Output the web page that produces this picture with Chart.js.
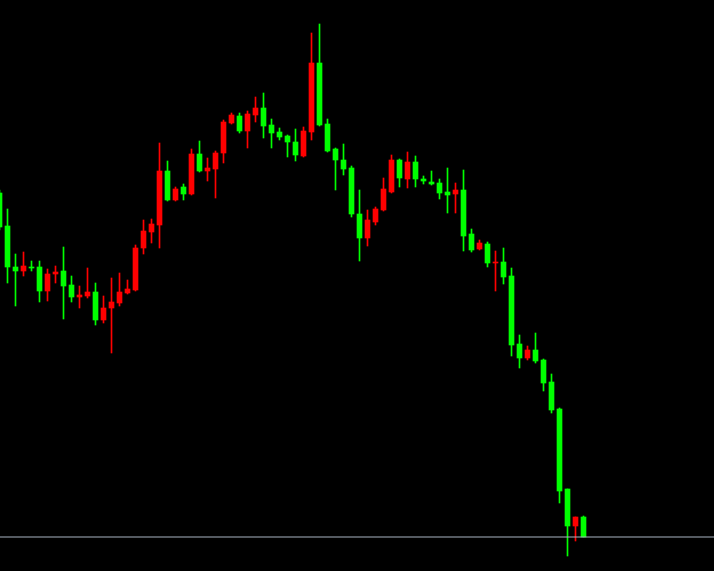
<!DOCTYPE html>
<html>
<head>
<meta charset="utf-8">
<script src="https://cdn.jsdelivr.net/npm/chart.js@4/dist/chart.umd.min.js"></script>
<style>
  html, body { margin: 0; padding: 0; background: #000; }
  #wrap { width: 714px; height: 571px; background: #000; }
</style>
</head>
<body>
<div id="wrap"><canvas id="c" width="714" height="571"></canvas></div>
<script>
// Candle values (arbitrary price units)
const openPrices  = [378,345,304,300,304,304,280,297,300,286,274,275,279,251,263,268,278,281,323,339,346,400,371,384,377,417,400,402,418,448,455,440,456,463,446,439,435,429,415,439,508,447,422,411,403,357,333,349,361,379,411,392,409,392,389,388,379,377,381,337,322,327,308,309,295,227,213,221,211,189,162,82,45,54];
const highPrices  = [381,362,317,319,310,310,302,305,324,295,285,303,288,275,293,298,291,326,351,352,428,410,384,387,422,430,413,420,451,458,458,460,474,478,452,443,436,442,444,538,547,452,423,427,405,381,361,364,393,416,412,419,415,395,400,392,403,388,401,342,331,329,320,323,303,236,225,238,212,197,163,82,54,55];
const lowPrices   = [341,288,265,295,300,269,270,288,252,269,263,273,246,248,218,265,277,280,317,328,323,370,370,371,376,399,390,373,408,447,438,423,449,433,423,431,414,410,414,431,445,419,381,396,354,310,325,346,360,378,384,383,384,387,386,372,358,358,320,319,321,304,280,287,215,203,211,208,180,158,68,15,30,34];
const closePrices = [344,304,300,305,303,280,297,299,285,274,276,279,251,263,269,279,282,323,340,347,400,371,382,377,417,400,403,418,449,456,440,457,463,445,438,434,429,416,440,508,446,420,411,402,357,333,351,362,382,411,393,409,392,390,387,378,376,381,335,321,328,308,309,294,226,213,221,210,188,161,80,45,54,34];
const candleIndex = openPrices.map((_, i) => i + 1);

const UP = '#ff0000';
const DOWN = '#00ff00';
const colors = openPrices.map((o, i) => closePrices[i] >= o ? UP : DOWN);

const wickData = candleIndex.map((x, i) => ({ x: x, y: [lowPrices[i], highPrices[i]] }));
const bodyData = candleIndex.map((x, i) => ({ x: x, y: [openPrices[i], closePrices[i]] }));
const lastClose = closePrices[closePrices.length - 1];

const X_MIN = 1.0625, X_MAX = 90.3125;

new Chart(document.getElementById('c'), {
  type: 'bar',
  data: {
    datasets: [
      {
        type: 'line',
        data: [{ x: X_MIN, y: lastClose }, { x: X_MAX, y: lastClose }],
        borderColor: '#a9b4c2',
        borderWidth: 1,
        pointRadius: 0,
        fill: false,
        order: 0
      },
      {
        data: bodyData,
        backgroundColor: colors,
        borderWidth: 0,
        barThickness: 5,
        grouped: false,
        order: 1
      },
      {
        data: wickData,
        backgroundColor: colors,
        borderWidth: 0,
        barThickness: 1,
        grouped: false,
        order: 2
      }
    ]
  },
  options: {
    responsive: false,
    animation: false,
    devicePixelRatio: 1,
    layout: { padding: 0 },
    plugins: { legend: { display: false }, tooltip: { enabled: false }, title: { display: false } },
    scales: {
      x: { type: 'linear', min: X_MIN, max: X_MAX, display: false, offset: false, grid: { display: false } },
      y: { type: 'linear', min: 0, max: 571, display: false, grid: { display: false } }
    }
  }
});
</script>
</body>
</html>
